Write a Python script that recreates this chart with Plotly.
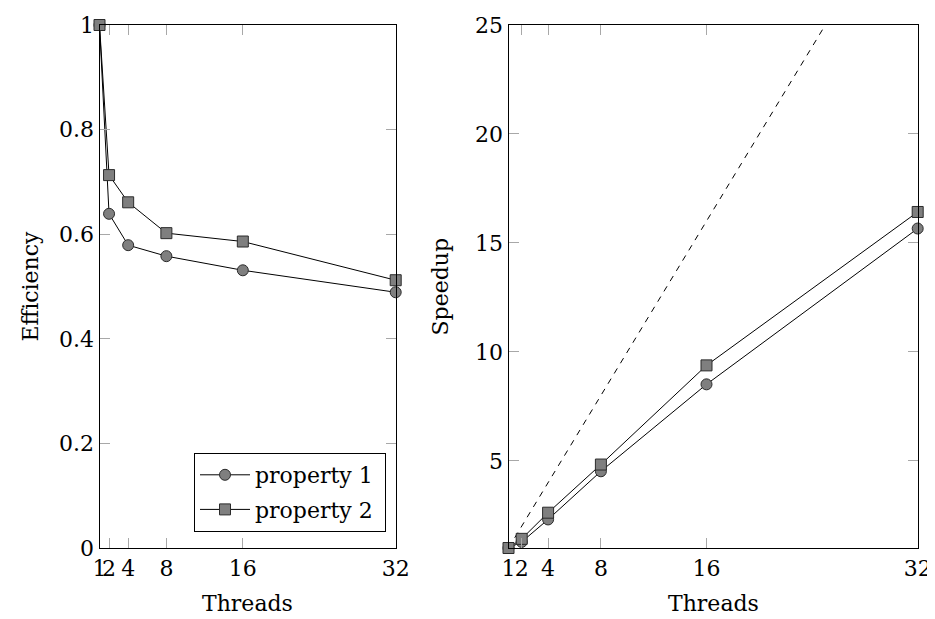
import plotly.graph_objects as go

threads = [1, 2, 4, 8, 16, 32]
thread_labels = ["1", "2", "4", "8", "16", "32"]
eff_p1 = [1.0, 0.639, 0.579, 0.558, 0.531, 0.489]
eff_p2 = [1.0, 0.713, 0.661, 0.602, 0.586, 0.512]
speed_p1 = [1.0, 1.28, 2.31, 4.52, 8.51, 15.66]
speed_p2 = [1.0, 1.42, 2.62, 4.83, 9.38, 16.42]
ideal = threads
eff_ticks = [0, 0.2, 0.4, 0.6, 0.8, 1]
eff_tick_labels = ["0", "0.2", "0.4", "0.6", "0.8", "1"]
speed_ticks = [5, 10, 15, 20, 25]

FONT = "DejaVu Serif"
FS = 22
MFILL = "#7f7f7f"
MLINE = "#2b2b2b"

fig = go.Figure()

def add(x, y, name, symbol, xa, ya, show, group):
    fig.add_trace(go.Scatter(
        x=x, y=y, name=name, mode="lines+markers", legendgroup=group,
        line=dict(color="black", width=1),
        marker=dict(symbol=symbol, size=11, color=MFILL, line=dict(color=MLINE, width=1)),
        xaxis=xa, yaxis=ya, showlegend=show, cliponaxis=False))

add(threads, eff_p1, "property 1\u00a0", "circle", "x", "y", True, "p1")
add(threads, eff_p2, "property 2\u00a0", "square", "x", "y", True, "p2")
fig.add_trace(go.Scatter(x=threads, y=ideal, mode="lines",
                         line=dict(color="black", width=1, dash="6px,6px"),
                         xaxis="x2", yaxis="y2", showlegend=False, cliponaxis=True))
add(threads, speed_p1, "property 1", "circle", "x2", "y2", False, "p1")
add(threads, speed_p2, "property 2", "square", "x2", "y2", False, "p2")

# page body has an 8px margin: the figure starts at (8, 8)
OFF = 8
W, H = 935 - OFF, 619 - OFF
def px(x):
    return (x - OFF) / W
def py(y):
    return 1 - (y - OFF) / H

common_axis = dict(showline=True, linecolor="black", linewidth=1.2, mirror="ticks",
                   ticks="inside", ticklen=10, tickcolor="#a8a8a8", tickwidth=1.3,
                   showgrid=False, zeroline=False, automargin=False,
                   tickfont=dict(family=FONT, size=FS, color="black"))

L1, R1 = 99.5, 395.7
L2, R2 = 508.5, 917.7
TOP, BOT = 25, 548

fig.update_layout(
    width=W, height=H,
    margin=dict(l=0, r=0, t=0, b=0),
    paper_bgcolor="white", plot_bgcolor="white",
    font=dict(family=FONT, size=FS, color="black"),
    xaxis=dict(common_axis, domain=[px(L1), px(R1)], range=[1, 32], tickangle=0,
               tickvals=threads, ticktext=thread_labels, anchor="y"),
    yaxis=dict(common_axis, domain=[py(BOT), py(TOP)], range=[0, 1], anchor="x",
               tickvals=eff_ticks, ticktext=eff_tick_labels),
    xaxis2=dict(common_axis, domain=[px(L2), px(R2)], range=[1, 32], tickangle=0,
                tickvals=threads, ticktext=thread_labels, anchor="y2"),
    yaxis2=dict(common_axis, domain=[py(BOT), py(TOP)], range=[1, 25], anchor="x2",
                tickvals=speed_ticks),
    legend=dict(x=px(386), y=py(532), xanchor="right", yanchor="bottom",
                bordercolor="black", borderwidth=1, bgcolor="white",
                font=dict(family=FONT, size=FS), tracegroupgap=3, itemwidth=50),
    annotations=[
        dict(text="Threads", x=px((L1 + R1) / 2), y=py(603), xref="paper", yref="paper",
             xanchor="center", yanchor="middle", showarrow=False, font=dict(family=FONT, size=FS)),
        dict(text="Threads", x=px((L2 + R2) / 2), y=py(603), xref="paper", yref="paper",
             xanchor="center", yanchor="middle", showarrow=False, font=dict(family=FONT, size=FS)),
        dict(text="Efficiency", x=px(30), y=py((TOP + BOT) / 2), xref="paper", yref="paper",
             xanchor="center", yanchor="middle", showarrow=False, textangle=-90,
             font=dict(family=FONT, size=FS)),
        dict(text="Speedup", x=px(440), y=py((TOP + BOT) / 2), xref="paper", yref="paper",
             xanchor="center", yanchor="middle", showarrow=False, textangle=-90,
             font=dict(family=FONT, size=FS)),
    ],
)

fig.write_html("out.html")
